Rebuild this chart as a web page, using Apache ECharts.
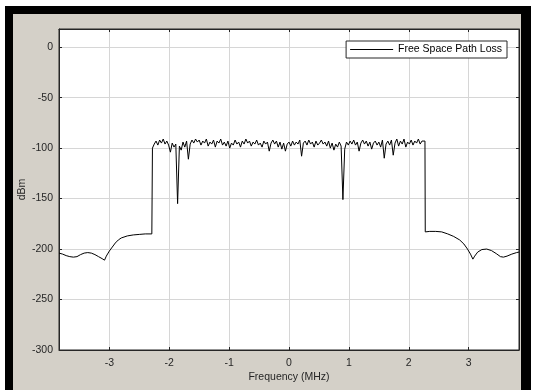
<!DOCTYPE html>
<html>
<head>
<meta charset="utf-8">
<script src="https://cdn.jsdelivr.net/npm/echarts@6/dist/echarts.min.js"></script>
<style>
  html, body { margin: 0; padding: 0; background: #fff; }
  #frame { position: absolute; left: 5px; top: 6px; width: 526px; height: 384px; background: #000; }
  #panel { position: absolute; left: 8px; top: 8px; width: 508px; height: 376px; background: #d4d0c8; }
  #chart { position: absolute; left: 0; top: 0; width: 534px; height: 390px; }
</style>
</head>
<body>
<div id="frame"><div id="panel"></div></div>
<div id="chart"></div>
<script>
// skirt below the band (MHz / dBm)
var lowSkirtFreq = [-3.84, -3.78, -3.72, -3.66, -3.60, -3.54, -3.48, -3.42, -3.36, -3.30,
  -3.24, -3.18, -3.12, -3.08, -3.05, -3.00, -2.95, -2.90, -2.85, -2.80,
  -2.70, -2.60, -2.50, -2.40, -2.29];
var lowSkirtDbm = [-204, -205, -206.5, -207.5, -208, -207.5, -205.5, -204, -203.5, -204,
  -205.5, -207.5, -209.5, -211, -207, -202, -198, -194, -191, -189,
  -187, -186, -185.5, -185, -185];

// occupied band
var bandFreq = [
  -2.28, -2.25, -2.22, -2.19, -2.16, -2.13, -2.10, -2.07, -2.04, -2.01,
  -1.98, -1.95, -1.92, -1.89, -1.86, -1.83, -1.80, -1.77, -1.74, -1.71,
  -1.68, -1.65, -1.62, -1.59, -1.56, -1.53, -1.50, -1.47, -1.44, -1.41,
  -1.38, -1.35, -1.32, -1.29, -1.26, -1.23, -1.20, -1.17, -1.14, -1.11,
  -1.08, -1.05, -1.02, -0.99, -0.96, -0.93, -0.90, -0.87, -0.84, -0.81,
  -0.78, -0.75, -0.72, -0.69, -0.66, -0.63, -0.60, -0.57, -0.54, -0.51,
  -0.48, -0.45, -0.42, -0.39, -0.36, -0.33, -0.30, -0.27, -0.24, -0.21,
  -0.18, -0.15, -0.12, -0.09, -0.06, -0.03, 0.00, 0.03, 0.06, 0.09,
  0.12, 0.15, 0.18, 0.21, 0.24, 0.27, 0.30, 0.33, 0.36, 0.39,
  0.42, 0.45, 0.48, 0.51, 0.54, 0.57, 0.60, 0.63, 0.66, 0.69,
  0.72, 0.75, 0.78, 0.81, 0.84, 0.87, 0.90, 0.93, 0.96, 0.99,
  1.02, 1.05, 1.08, 1.11, 1.14, 1.17, 1.20, 1.23, 1.26, 1.29,
  1.32, 1.35, 1.38, 1.41, 1.44, 1.47, 1.50, 1.53, 1.56, 1.59,
  1.62, 1.65, 1.68, 1.71, 1.74, 1.77, 1.80, 1.83, 1.86, 1.89,
  1.92, 1.95, 1.98, 2.01, 2.04, 2.07, 2.10, 2.13, 2.16, 2.19,
  2.22, 2.25, 2.27];
var bandDbm = [
  -100, -96, -93, -97, -92, -95, -91, -96, -93, -97,
  -104, -95, -99, -96, -155, -98, -102, -94, -99, -93,
  -111, -96, -92, -95, -91, -94, -92, -97, -93, -95,
  -91, -98, -94, -96, -92, -99, -93, -95, -91, -97,
  -94, -98, -93, -100, -95, -97, -92, -96, -94, -99,
  -93, -96, -91, -95, -93, -98, -94, -96, -92, -97,
  -95, -99, -93, -96, -94, -103, -95, -92, -96, -93,
  -99, -94, -101, -95, -103, -96, -94, -98, -93, -97,
  -94, -96, -92, -108, -95, -93, -97, -92, -96, -94,
  -99, -93, -97, -95, -92, -96, -94, -98, -93, -100,
  -95, -102, -96, -99, -94, -98, -151, -101, -94, -97,
  -93, -96, -92, -97, -94, -103, -95, -92, -96, -93,
  -98, -94, -101, -95, -93, -97, -94, -99, -92, -110,
  -96, -93, -97, -92, -107, -95, -91, -98, -93, -96,
  -91, -99, -94, -96, -92, -97, -93, -95, -91, -96,
  -93, -92, -93];

// skirt above the band
var highSkirtFreq = [2.275, 2.35, 2.45, 2.55, 2.65, 2.75, 2.85, 2.92, 2.98, 3.03,
  3.07, 3.10, 3.15, 3.22, 3.30, 3.38, 3.46, 3.53, 3.58, 3.64,
  3.72, 3.80, 3.84];
var highSkirtDbm = [-183, -182.5, -182.5, -183, -185, -187.5, -191, -195, -200, -205,
  -210, -207, -203, -200.5, -200, -201.5, -204.5, -207.5, -208, -207,
  -205, -203.5, -203];

var xTicks = [-3, -2, -1, 0, 1, 2, 3];

function pairs(xs, ys) {
  var out = [];
  for (var i = 0; i < xs.length; i++) out.push([xs[i], ys[i]]);
  return out;
}
var lossData = pairs(lowSkirtFreq, lowSkirtDbm)
  .concat(pairs(bandFreq, bandDbm))
  .concat(pairs(highSkirtFreq, highSkirtDbm));

var labelFont = { fontFamily: 'Liberation Sans, Arial, sans-serif', fontSize: 10.5, color: '#262626' };
var gridColor = '#d6d6d6';
// plain line legend icon: a 1px bar, with tiny corner dots so the box stays 43x10
var lineIcon = 'path://M0,0H0.01V0.01H0Z M0,4.5H43V5.5H0Z M42.99,9.99H43V10H42.99Z';

var chart = echarts.init(document.getElementById('chart'), null, { renderer: 'canvas' });
chart.setOption({
  animation: false,
  backgroundColor: 'transparent',
  grid: {
    left: 59, top: 29, right: 15, bottom: 40,
    show: true, backgroundColor: '#fff', borderColor: '#262626', borderWidth: 1
  },
  legend: {
    right: 27, top: 41,
    padding: [3, 5, 3, 4],
    backgroundColor: '#fff',
    borderColor: '#262626',
    borderWidth: 1,
    borderRadius: 0,
    itemWidth: 43,
    itemHeight: 10,
    itemGap: 4,
    icon: lineIcon,
    itemStyle: { color: '#000' },
    textStyle: { fontFamily: labelFont.fontFamily, fontSize: 10.5, color: '#000' },
    data: ['Free Space Path Loss']
  },
  xAxis: [{
    type: 'value',
    min: -3.84, max: 3.84,
    name: 'Frequency (MHz)',
    nameLocation: 'middle',
    nameGap: 22,
    nameMoveOverlap: false,
    nameTextStyle: labelFont,
    axisLine: { show: true, onZero: false, lineStyle: { color: '#262626' } },
    axisTick: { show: true, inside: true, length: 3, customValues: xTicks, lineStyle: { color: '#262626' } },
    axisLabel: { customValues: xTicks, margin: 8, fontFamily: labelFont.fontFamily, fontSize: 10.5, color: '#262626' },
    splitLine: { show: true, lineStyle: { color: gridColor, width: 1 } }
  }, {
    type: 'value', position: 'top',
    min: -3.84, max: 3.84,
    axisLine: { show: true, onZero: false, lineStyle: { color: '#262626' } },
    axisTick: { show: true, inside: true, length: 3, customValues: xTicks, lineStyle: { color: '#262626' } },
    axisLabel: { show: false },
    splitLine: { show: false }
  }],
  yAxis: [{
    type: 'value',
    min: -300, max: 18, interval: 50,
    name: 'dBm',
    nameLocation: 'middle',
    nameGap: 31,
    nameMoveOverlap: false,
    nameTextStyle: labelFont,
    axisLine: { show: true, onZero: false, lineStyle: { color: '#262626' } },
    axisTick: { show: true, inside: true, length: 3, lineStyle: { color: '#262626' } },
    axisLabel: { showMaxLabel: false, margin: 6, fontFamily: labelFont.fontFamily, fontSize: 10.5, color: '#262626' },
    splitLine: { show: true, lineStyle: { color: gridColor, width: 1 } }
  }, {
    type: 'value', position: 'right',
    min: -300, max: 18, interval: 50,
    axisLine: { show: true, onZero: false, lineStyle: { color: '#262626' } },
    axisTick: { show: true, inside: true, length: 3, lineStyle: { color: '#262626' } },
    axisLabel: { show: false },
    splitLine: { show: false }
  }],
  series: [{
    name: 'Free Space Path Loss',
    type: 'line',
    xAxisIndex: 0,
    yAxisIndex: 0,
    data: lossData,
    symbol: 'none',
    clip: true,
    lineStyle: { color: '#000', width: 1 },
    itemStyle: { color: '#000' }
  }]
});
</script>
</body>
</html>
